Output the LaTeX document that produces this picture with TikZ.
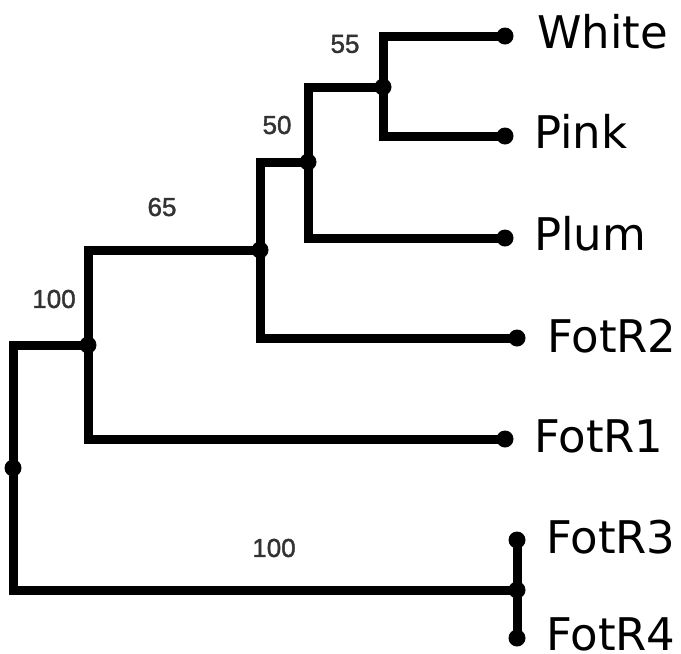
\documentclass[tikz,border=0pt]{standalone}
\usepackage{fontspec}
\setmainfont{DejaVu Sans}
\newfontfamily\numfont[AutoFakeBold=1.5]{Liberation Sans}
\begin{document}
\begin{tikzpicture}[x=1pt,y=-1pt,
  branch/.style={line width=9pt, line join=miter, line cap=butt},
  leaf/.style={anchor=base west, inner sep=0pt, font=\fontsize{45}{54}\selectfont},
  boot/.style={inner sep=0pt, text=black!80, font=\numfont\bfseries\fontsize{26}{30}\selectfont}]
\useasboundingbox (0,0) rectangle (681,654);
\fill[white] (0,0) rectangle (681,654);
% internal nodes and tips
\coordinate (root) at (13,468);
\coordinate (n100) at (88,345);
\coordinate (n65) at (260,250);
\coordinate (n50) at (308,162);
\coordinate (n55) at (383,87);
\coordinate (white) at (505,36);
\coordinate (pink) at (505,136);
\coordinate (plum) at (505,238);
\coordinate (f2) at (517,338);
\coordinate (f1) at (505,439);
\coordinate (f34) at (517,590);
\coordinate (f3) at (517,540);
\coordinate (f4) at (517,638);
% branches
\draw[branch] (n100) -| (root) |- (f34);
\draw[branch] (n65) -| (n100) |- (f1);
\draw[branch] (n50) -| (n65) |- (f2);
\draw[branch] (n55) -| (n50) |- (plum);
\draw[branch] (white) -| (n55) |- (pink);
\draw[branch] (f3) -- (f4);
% dots
\foreach \p in {root,n100,n65,n50,n55,f34}
  \fill (\p) circle (8.5pt);
\foreach \p in {white,pink,plum,f2,f1,f3,f4}
  \fill (\p) circle (8.5pt);
% leaf labels
\node[leaf] (lwhite) at (537,48) {White};
\node[leaf] (lpink) at (534,148) {Pink};
\node[leaf] (lplum) at (534,250) {Plum};
\node[leaf] (lf2) at (547,352) {FotR2};
\node[leaf] (lf1) at (534,452) {FotR1};
\node[leaf] (lf3) at (546,553) {FotR3};
\node[leaf] (lf4) at (546,650) {FotR4};
% bootstrap values
\node[boot] (b55) at (345,44) {55};
\node[boot] (b50) at (277,125) {50};
\node[boot] (b65) at (162,207) {65};
\node[boot] (b100a) at (54,299) {100};
\node[boot] (b100b) at (274,548) {100};
\end{tikzpicture}
\end{document}
